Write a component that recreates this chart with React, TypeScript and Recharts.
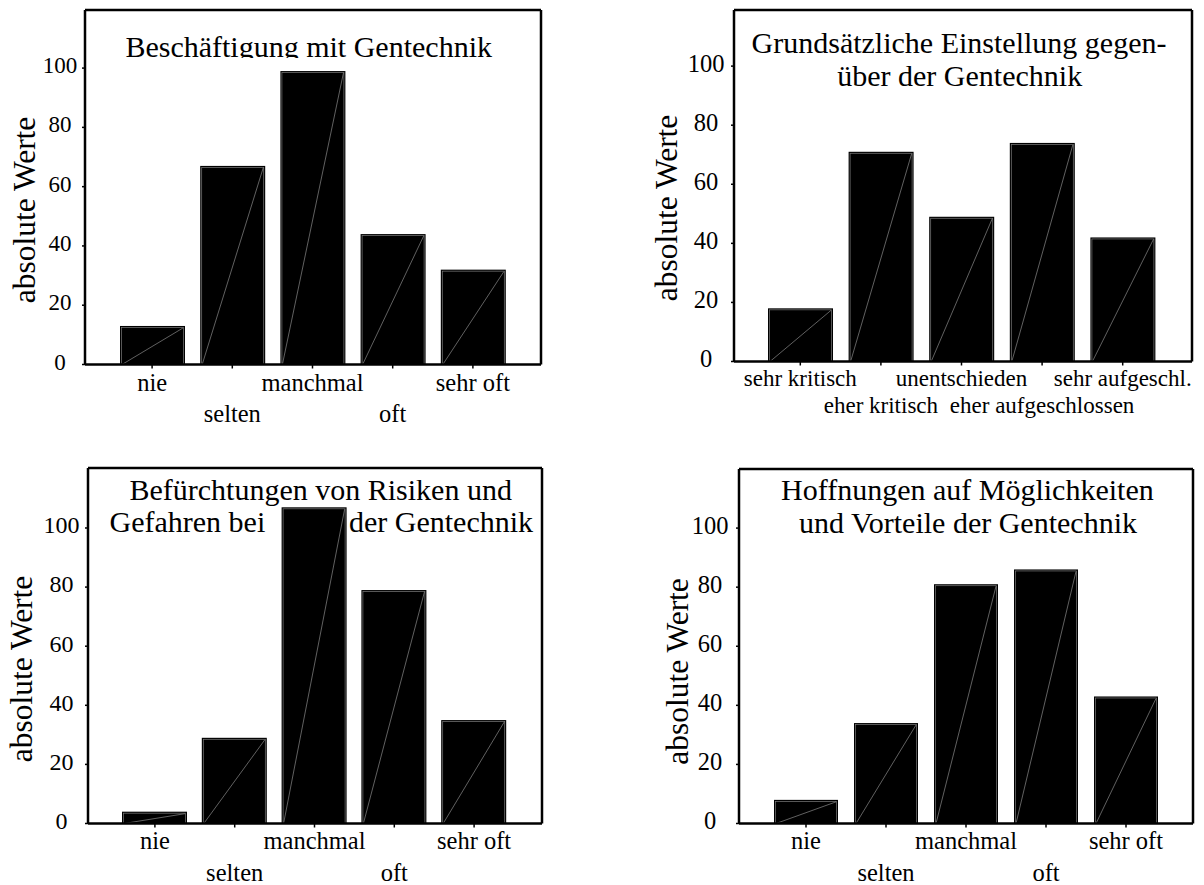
import React from 'react';
import { BarChart, Bar, XAxis, YAxis } from 'recharts';

// ---------- data ----------
const frequencyCategories = ['nie', 'selten', 'manchmal', 'oft', 'sehr oft'];
const attitudeCategories = ['sehr kritisch', 'eher kritisch', 'unentschieden', 'eher aufgeschlossen', 'sehr aufgeschl.'];

const beschaeftigungValues = [13, 67, 99, 44, 32];
const einstellungValues = [18, 71, 49, 74, 42];
const befuerchtungenValues = [4, 29, 107, 79, 35];
const hoffnungenValues = [8, 34, 81, 86, 43];

const yTicks = [0, 20, 40, 60, 80, 100];
const yAxisTitle = 'absolute Werte';

const titleBeschaeftigung = ['Beschäftigung mit Gentechnik'];
const titleEinstellung = ['Grundsätzliche Einstellung gegen-', 'über der Gentechnik'];
const titleBefuerchtungen = ['Befürchtungen von Risiken und', 'Gefahren bei', 'der Gentechnik'];
const titleHoffnungen = ['Hoffnungen auf Möglichkeiten', 'und Vorteile der Gentechnik'];

const toRows = (cats: string[], vals: number[]) => cats.map((name, i) => ({ name, value: vals[i] }));

// ---------- styling ----------
const FONT = '"Liberation Serif", "Times New Roman", Times, serif';

const HatchedBar = (props: any) => {
  const { x, y, width, height } = props;
  if (!height || height <= 0) return null;
  return (
    <g>
      <rect x={x} y={y} width={width} height={height} fill="#000" />
      <rect x={x + 1.5} y={y + 1.5} width={width - 3} height={height - 1.5} fill="none" stroke="#7c7c7c" strokeWidth={0.7} />
      <line x1={x + 2} y1={y + height} x2={x + width - 2} y2={y + 2} stroke="#8a8a8a" strokeWidth={0.7} />
    </g>
  );
};

const makeXTick = (fontSize: number, row1: number, row2: number) => (props: any) => {
  const { x, y, payload, index } = props;
  return (
    <text x={x} y={y + (index % 2 ? row2 : row1)} textAnchor="middle" fontFamily={FONT} fontSize={fontSize} fill="#000">
      {payload.value}
    </text>
  );
};

const makeYTick = (fontSize: number) => (props: any) => {
  const { x, y, payload } = props;
  return (
    <text x={x} y={y + fontSize * 0.35 - 3} textAnchor="middle" fontFamily={FONT} fontSize={fontSize} fill="#000">
      {payload.value}
    </text>
  );
};

type Panel = {
  key: string;
  rows: { name: string; value: number }[];
  box: [number, number, number, number];
  plot: { L: number; R: number; T: number; B: number };
  yMax: number;
  pad: { left: number; right: number };
  barSize: number;
  xFont: number;
  xRows: [number, number];
  yFont: number;
  yCenterOffset: number;
  labelShift: [number, number];
};

const panels: Panel[] = [
  {
    key: 'p1',
    rows: toRows(frequencyCategories, beschaeftigungValues),
    box: [0, 0, 600, 440],
    plot: { L: 85, R: 541, T: 10, B: 364.5 },
    yMax: 119.6,
    pad: { left: 27, right: 28 },
    barSize: 65,
    xFont: 24.5,
    xRows: [26, 57],
    yFont: 23,
    yCenterOffset: 25,
    labelShift: [-18.5, 22.75],
  },
  {
    key: 'p2',
    rows: toRows(attitudeCategories, einstellungValues),
    box: [600, 0, 604, 440],
    plot: { L: 734, R: 1192, T: 10, B: 361.5 },
    yMax: 119,
    pad: { left: 26, right: 29 },
    barSize: 65,
    xFont: 23,
    xRows: [24, 51.5],
    yFont: 24.5,
    yCenterOffset: 28,
    labelShift: [-1.5, 22.25],
  },
  {
    key: 'p3',
    rows: toRows(frequencyCategories, befuerchtungenValues),
    box: [0, 440, 600, 445],
    plot: { L: 88, R: 542, T: 468, B: 823.5 },
    yMax: 120.3,
    pad: { left: 27, right: 28 },
    barSize: 65,
    xFont: 24.5,
    xRows: [25, 57],
    yFont: 24,
    yCenterOffset: 26.5,
    labelShift: [-23.4, 23.25],
  },
  {
    key: 'p4',
    rows: toRows(frequencyCategories, hoffnungenValues),
    box: [600, 440, 604, 445],
    plot: { L: 739, R: 1193, T: 469, B: 823.5 },
    yMax: 120,
    pad: { left: 27, right: 27 },
    barSize: 64,
    xFont: 24.5,
    xRows: [25, 57],
    yFont: 24.5,
    yCenterOffset: 29,
    labelShift: [7, 25.25],
  },
];

const X_AXIS_H = 60;
const TICK_X = 4;
const TICK_Y = 3;
const AXIS_STROKE = { stroke: '#000', strokeWidth: 2.5 };

const PanelChart = ({ p }: { p: Panel }) => {
  const [bx, by, bw, bh] = p.box;
  const margin = {
    top: p.plot.T - by - 1,
    left: 0,
    right: bx + bw - p.plot.R - 1,
    bottom: by + bh - p.plot.B - X_AXIS_H,
  };
  const yAxisWidth = p.plot.L - bx;
  return (
    <div style={{ position: 'absolute', left: bx, top: by, width: bw, height: bh, zIndex: 1 }}>
      <BarChart width={bw} height={bh} data={p.rows} margin={margin} barCategoryGap={0}>
        <XAxis
          dataKey="name"
          interval={0}
          padding={p.pad}
          height={X_AXIS_H}
          tickSize={TICK_X}
          tickMargin={0}
          tickLine={{ stroke: '#000', strokeWidth: 1.5 }}
          axisLine={AXIS_STROKE}
          tick={makeXTick(p.xFont, p.xRows[0] - TICK_X, p.xRows[1] - TICK_X)}
        />
        <XAxis
          xAxisId="top"
          orientation="top"
          dataKey="name"
          height={1}
          tick={false}
          tickLine={false}
          axisLine={AXIS_STROKE}
        />
        <YAxis
          type="number"
          domain={[0, p.yMax]}
          ticks={yTicks}
          allowDataOverflow
          width={yAxisWidth}
          tickSize={TICK_Y}
          tickMargin={p.yCenterOffset - TICK_Y}
          tickLine={{ stroke: '#000', strokeWidth: 1.5 }}
          axisLine={AXIS_STROKE}
          tick={makeYTick(p.yFont)}
          label={{
            value: yAxisTitle,
            angle: -90,
            position: 'center',
            dx: p.labelShift[0],
            dy: p.labelShift[1],
            fontSize: 31.5,
            fontFamily: FONT,
            fill: '#000',
            style: { fontFamily: FONT },
          }}
        />
        <YAxis
          yAxisId="right"
          orientation="right"
          type="number"
          domain={[0, p.yMax]}
          width={1}
          tick={false}
          tickLine={false}
          axisLine={AXIS_STROKE}
        />
        <Bar dataKey="value" barSize={p.barSize} shape={HatchedBar} isAnimationActive={false} />
      </BarChart>
    </div>
  );
};

const titleStyle = { fontFamily: FONT, fontSize: 30, fill: '#000' } as const;

const Titles = () => (
  <svg width={1204} height={885} style={{ position: 'absolute', left: 0, top: 0, zIndex: 0 }}>
    <defs>
      <clipPath id="clipTitle1">
        <rect x={0} y={0} width={600} height={58} />
      </clipPath>
    </defs>
    <g clipPath="url(#clipTitle1)">
      <text x={308.7} y={56.5} textAnchor="middle" {...titleStyle}>{titleBeschaeftigung[0]}</text>
    </g>
    <text x={959} y={52.5} textAnchor="middle" {...titleStyle}>{titleEinstellung[0]}</text>
    <text x={959.7} y={86} textAnchor="middle" {...titleStyle}>{titleEinstellung[1]}</text>
    <text x={320.7} y={500} textAnchor="middle" {...titleStyle}>{titleBefuerchtungen[0]}</text>
    <text x={109.5} y={532} textAnchor="start" {...titleStyle}>{titleBefuerchtungen[1]}</text>
    <text x={349} y={532} textAnchor="start" {...titleStyle}>{titleBefuerchtungen[2]}</text>
    <text x={967.4} y={500} textAnchor="middle" {...titleStyle}>{titleHoffnungen[0]}</text>
    <text x={968} y={533} textAnchor="middle" {...titleStyle}>{titleHoffnungen[1]}</text>
  </svg>
);

export default function App() {
  return (
    <div
      style={{
        position: 'absolute',
        left: 0,
        top: 0,
        width: 1204,
        height: 885,
        background: '#fff',
        overflow: 'hidden',
        fontFamily: FONT,
      }}
    >
      <Titles />
      {panels.map((p) => (
        <PanelChart key={p.key} p={p} />
      ))}
    </div>
  );
}
